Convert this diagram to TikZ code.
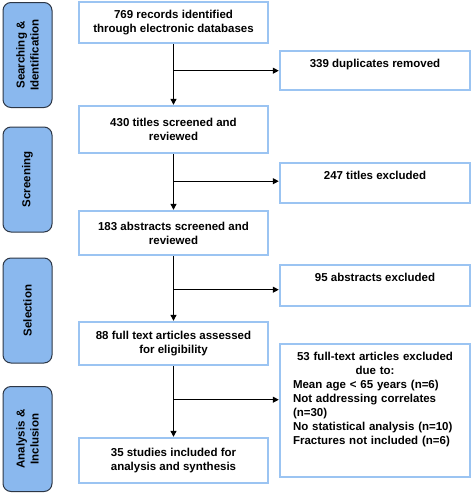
\documentclass[tikz,border=0pt]{standalone}
\usepackage{fontspec}
\setmainfont{Liberation Sans}
\usetikzlibrary{arrows.meta}

\definecolor{boxblue}{RGB}{155,196,242}
\definecolor{phasefill}{RGB}{138,184,238}
\definecolor{phaseline}{RGB}{45,55,70}

\tikzset{
    txt/.style={font=\bfseries\fontsize{11.5}{14}\selectfont},
    stagebox/.style={txt, draw=boxblue, line width=2.4pt, fill=white, minimum width=189pt, minimum height=44pt, align=center},
    sidebox/.style={txt, draw=boxblue, line width=2.4pt, fill=white, minimum width=190pt, anchor=north, align=center, text height=12pt, inner ysep=4pt},
    phasebox/.style={txt, draw=phaseline, fill=phasefill, line width=1pt, rounded corners=8pt, rotate=90, minimum width=105pt, minimum height=49pt, align=center},
    flow/.style={-{Triangle[length=6pt,width=6pt]}, line width=1.1pt}
}

\begin{document}
\begin{tikzpicture}[x=1pt, y=1pt]
\useasboundingbox (0,0) rectangle (472,-493);

% phases
\node[phasebox] (pSearch) at (27.5,-55) {Searching \&\\Identification};
\node[phasebox] (pScreen) at (27.5,-179.5) {Screening};
\node[phasebox] (pSelect) at (27.5,-310.5) {Selection};
\node[phasebox] (pAnalysis) at (27.5,-439) {Analysis \&\\Inclusion};

% main flow
\node[stagebox, minimum height=41pt] (records) at (173.5,-22.5) {769 records identified\\through electronic databases};
\node[stagebox, minimum height=47pt] (titles) at (173.5,-129.5) {430 titles screened and\\reviewed};
\node[stagebox] (abstracts) at (173.5,-233) {183 abstracts screened and\\reviewed};
\node[stagebox, minimum height=43pt] (fulltext) at (173.5,-343.5) {88 full text articles assessed\\for eligibility};
\node[stagebox, minimum height=45pt] (included) at (173.5,-460.5) {35 studies included for\\analysis and synthesis};

% exclusions
\node[sidebox, text depth=19pt] (dupl) at (375,-50) {339 duplicates removed};
\node[sidebox, text depth=20pt] (titleEx) at (375,-162) {247 titles excluded};
\node[sidebox, text depth=21pt] (absEx) at (375,-264) {95 abstracts excluded};
\node[sidebox, text depth=113pt, text width=164pt, inner xsep=12pt, align=left] (ftEx) at (375,-343) {
    \makebox[164pt][c]{53 full-text articles excluded}\\
    \makebox[164pt][c]{due to:}\\
    Mean age < 65 years (n=6)\\
    Not addressing correlates\\
    (n=30)\\
    No statistical analysis (n=10)\\
    Fractures not included (n=6)
};

\draw[flow] (records) -- (titles);
\draw[flow] (titles) -- (abstracts);
\draw[flow] (abstracts) -- (fulltext);
\draw[flow] (fulltext) -- (included);

\draw[flow] (records |- dupl.west) -- (dupl.west);
\draw[flow] (titles |- titleEx.west) ++(0,2) -- ([yshift=2pt]titleEx.west);
\draw[flow] (abstracts |- absEx.west) ++(0,-4) -- ([yshift=-4pt]absEx.west);
\draw[flow] (fulltext |- ftEx.west) ++(0,11) -- ([yshift=11pt]ftEx.west);
\end{tikzpicture}
\end{document}
